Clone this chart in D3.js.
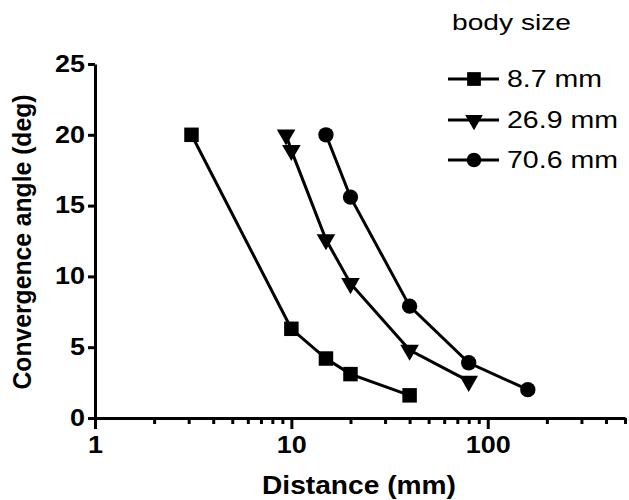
<!DOCTYPE html>
<html>
<head>
<meta charset="utf-8">
<script src="https://cdn.jsdelivr.net/npm/d3@7"></script>
<style>
  body { margin: 0; background: #fff; }
  svg { display: block; }
  text { font-family: "Liberation Sans", Arial, sans-serif; fill: #000; }
</style>
</head>
<body>
<svg width="629" height="500"></svg>
<script>
// data
var seriesNames = ["8.7 mm", "26.9 mm", "70.6 mm"];
var seriesShapes = ["square", "triangle", "circle"];
var dist87 = [3.1, 10, 15, 20, 40];
var angle87 = [20, 6.3, 4.2, 3.1, 1.6];
var dist269 = [9.4, 10, 15, 20, 40, 80];
var angle269 = [20, 18.9, 12.6, 9.5, 4.8, 2.6];
var dist706 = [15, 20, 40, 80, 160];
var angle706 = [20, 15.6, 7.9, 3.9, 2.0];
var xTickValues = [1, 10, 100];
var yTickValues = [0, 5, 10, 15, 20, 25];

var svg = d3.select("svg");

var x = d3.scaleLog().domain([1, 500]).range([95, 625]);
var y = d3.scaleLinear().domain([0, 25]).range([418, 64]);

var series = [
  { name: seriesNames[0], shape: seriesShapes[0], values: dist87.map(function(d, i) { return { x: d, y: angle87[i] }; }) },
  { name: seriesNames[1], shape: seriesShapes[1], values: dist269.map(function(d, i) { return { x: d, y: angle269[i] }; }) },
  { name: seriesNames[2], shape: seriesShapes[2], values: dist706.map(function(d, i) { return { x: d, y: angle706[i] }; }) }
];

// minor ticks for the log axis: 2..9 of each decade
var minorTicks = x.ticks().filter(function(d) { return xTickValues.indexOf(d) < 0; });

// tick labels in the original are a bit wide, stretch them a little
function widen(sel) {
  sel.style("font-size", "23px").style("font-weight", "bold").attr("fill", "#000")
     .attr("lengthAdjust", "spacingAndGlyphs")
     .attr("textLength", function() { return this.textContent.length * 15; });
}

// x axis
var xAxis = svg.append("g")
  .attr("transform", "translate(0,418)");
xAxis.append("g")
  .call(d3.axisBottom(x).tickValues(minorTicks).tickSize(6).tickFormat(""))
  .call(function(g) { g.select(".domain").remove(); });
xAxis.append("g")
  .call(d3.axisBottom(x).tickValues(xTickValues).tickSize(11).tickSizeOuter(0).tickPadding(8).tickFormat(d3.format("d")));
xAxis.selectAll("line, path").attr("stroke", "#000").attr("stroke-width", 3);
xAxis.selectAll("text").call(widen);

// y axis
var yAxis = svg.append("g")
  .attr("transform", "translate(95,0)")
  .call(d3.axisLeft(y).tickValues(yTickValues).tickSize(7).tickSizeOuter(0).tickPadding(3));
yAxis.selectAll("line, path").attr("stroke", "#000").attr("stroke-width", 3);
yAxis.selectAll("text").call(widen);

// axis titles
svg.append("text")
  .attr("x", 359).attr("y", 494)
  .attr("text-anchor", "middle")
  .attr("textLength", 194).attr("lengthAdjust", "spacingAndGlyphs")
  .style("font-size", "26px").style("font-weight", "bold")
  .text("Distance (mm)");

svg.append("text")
  .attr("transform", "translate(31,242) rotate(-90)")
  .attr("text-anchor", "middle")
  .attr("textLength", 295).attr("lengthAdjust", "spacingAndGlyphs")
  .style("font-size", "26px").style("font-weight", "bold")
  .text("Convergence angle (deg)");

// symbol generator per series shape
function symbolPath(shape, scale) {
  if (shape === "square") return d3.symbol(d3.symbolSquare, 210 * scale)();
  if (shape === "triangle") return d3.symbol(d3.symbolTriangle, 150 * scale)();
  return d3.symbol(d3.symbolCircle, 185 * scale)();
}

var line = d3.line()
  .x(function(d) { return x(d.x); })
  .y(function(d) { return y(d.y); });

var group = svg.selectAll(".series")
  .data(series)
  .enter().append("g")
  .attr("class", "series");

group.append("path")
  .attr("d", function(d) { return line(d.values); })
  .attr("fill", "none")
  .attr("stroke", "#000")
  .attr("stroke-width", 3);

group.selectAll(".pt")
  .data(function(d) { return d.values.map(function(v) { return { shape: d.shape, x: v.x, y: v.y }; }); })
  .enter().append("path")
  .attr("class", "pt")
  .attr("transform", function(d) {
    return "translate(" + x(d.x) + "," + y(d.y) + ")" + (d.shape === "triangle" ? " rotate(180)" : "");
  })
  .attr("d", function(d) { return symbolPath(d.shape, 1); })
  .attr("fill", "#000");

// legend
var legend = svg.append("g");
legend.append("text")
  .attr("x", 452).attr("y", 30)
  .attr("textLength", 119).attr("lengthAdjust", "spacingAndGlyphs")
  .style("font-size", "22px")
  .text("body size");

var rows = [79, 120, 160];
var labelWidths = [95, 111, 111];
var entry = legend.selectAll(".entry")
  .data(series)
  .enter().append("g")
  .attr("class", "entry")
  .attr("transform", function(d, i) { return "translate(0," + rows[i] + ")"; });

entry.append("line")
  .attr("x1", 448).attr("x2", 499)
  .attr("stroke", "#000").attr("stroke-width", 3);

entry.append("path")
  .attr("transform", function(d) { return "translate(474,0)" + (d.shape === "triangle" ? " rotate(180)" : ""); })
  .attr("d", function(d) { return symbolPath(d.shape, 0.9); })
  .attr("fill", "#000");

entry.append("text")
  .attr("x", 507).attr("y", 8)
  .attr("textLength", function(d, i) { return labelWidths[i]; })
  .attr("lengthAdjust", "spacingAndGlyphs")
  .style("font-size", "23px")
  .text(function(d) { return d.name; });
</script>
</body>
</html>
